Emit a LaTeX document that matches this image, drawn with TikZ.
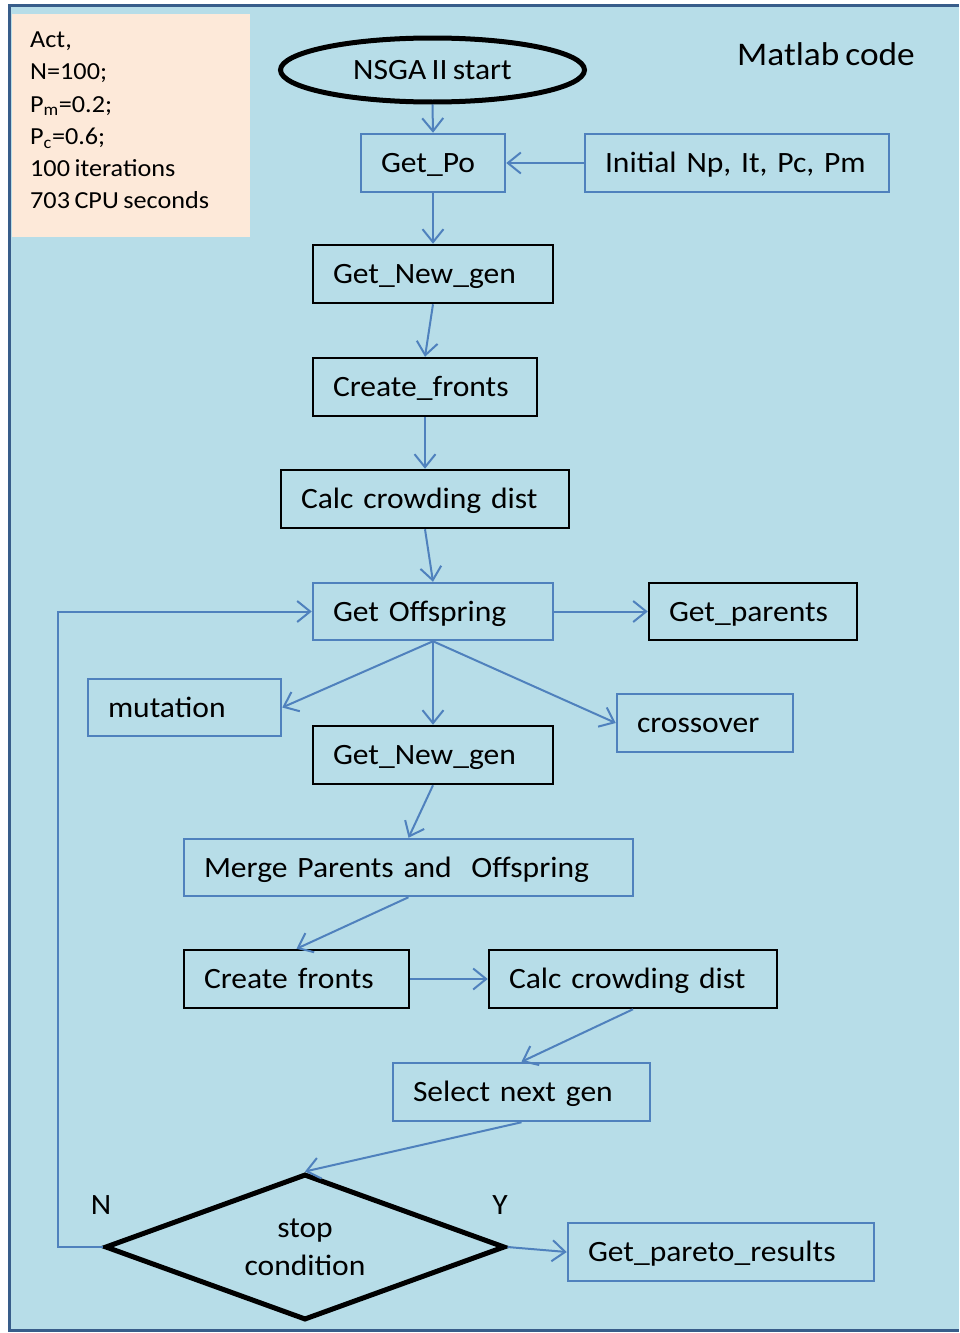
\documentclass[tikz,border=0pt]{standalone}
\usepackage{fontspec}
\setmainfont{Carlito}[FakeStretch=1.07, WordSpace=0.75]
\usetikzlibrary{shapes.geometric,arrows.meta}
\definecolor{panel}{HTML}{B7DDE8}
\definecolor{peach}{HTML}{FDE9D9}
\definecolor{flow}{HTML}{4F81BD}
\definecolor{frame}{HTML}{385D8A}

\begin{document}
\begin{tikzpicture}[x=1pt,y=-1pt,
  txt/.style={font=\fontsize{29.5}{38}\selectfont},
  box/.style={rectangle, txt, inner xsep=20pt, inner ysep=0pt, minimum height=58pt,
    text height=26pt, text depth=7pt, align=left},
  bluebox/.style={box, draw=flow, line width=2.5pt},
  blackbox/.style={box, draw=black, line width=2.5pt},
  link/.style={draw=flow, line width=2pt, -{Straight Barb[length=13pt,width=21pt,line width=2pt]}},
]
\useasboundingbox (0,0) rectangle (959,1333);

% panel and its frame
\fill[panel] (10,5) rectangle (959,1331);
\draw[frame, line width=3.5pt] (959,5.3) -- (9.3,5.3) -- (9.3,1330.5) -- (959,1330.5);

% parameter note
\node[fill=peach, minimum width=238pt, minimum height=223pt, inner sep=0pt] (info) at (131,125.5) {};
\node[anchor=west, align=left, inner sep=0pt, font=\fontsize{24.5}{32.2}\selectfont] (infotxt) at (30,120.5)
  {Act,\\N=100;\\P\textsubscript{m}=0.2;\\P\textsubscript{c}=0.6;\\100 iterations\\703 CPU seconds};

\node[font=\fontsize{33}{40}\selectfont] (title) at (826,54) {Matlab code};

% start
\node[ellipse, draw=black, line width=5pt, minimum width=304pt, minimum height=64pt, inner sep=0pt, txt] (start) at (432.5,70) {NSGA II start};

% flow boxes
\node[bluebox, text width=104pt] (po) at (433,163) {Get\_Po};
\node[bluebox, text width=264pt] (init) at (737,163) {Initial Np, It, Pc, Pm};
\node[blackbox, text width=200pt] (ng1) at (433,274) {Get\_New\_gen};
\node[blackbox, text width=184pt] (cf1) at (425,387) {Create\_fronts};
\node[blackbox, text width=248pt] (cd1) at (425,499) {Calc crowding dist};
\node[bluebox, text width=200pt, minimum height=57pt] (off) at (433,611.5) {Get Offspring};
\node[blackbox, text width=168pt, minimum height=57pt] (par) at (753,611.5) {Get\_parents};
\node[bluebox, text width=153pt, minimum height=57pt] (mut) at (184.5,707.5) {mutation};
\node[bluebox, text width=136pt] (cro) at (705,723) {crossover};
\node[blackbox, text width=200pt] (ng2) at (433,755) {Get\_New\_gen};
\node[bluebox, text width=409pt, minimum height=57pt] (mrg) at (408.5,867.5) {Merge Parents and~ Offspring};
\node[blackbox, text width=185pt] (cf2) at (296.5,979) {Create fronts};
\node[blackbox, text width=248pt] (cd2) at (633,979) {Calc crowding dist};
\node[bluebox, text width=217pt] (sel) at (521.5,1092) {Select next gen};
\node[bluebox, text width=266pt] (res) at (721,1252) {Get\_pareto\_results};

% decision
\node[diamond, draw=black, line width=5pt, minimum width=400pt, minimum height=146pt, inner sep=0pt] (stop) at (305,1247) {};
\node[txt, align=center, inner sep=0pt] (stoptxt) at (305,1247) {stop\\condition};
\node[txt] (no) at (101,1205) {N};
\node[txt] (yes) at (500,1205) {Y};

% connectors
\draw[link] (start.south) -- (po.north);
\draw[link] (init.west) -- (po.east);
\draw[link] (po.south) -- (ng1.north);
\draw[link] (ng1.south) -- (cf1.north);
\draw[link] (cf1.south) -- (cd1.north);
\draw[link] (cd1.south) -- (off.north);
\draw[link] (off.east) -- (par.west);
\draw[link] (off.south) -- (mut.east);
\draw[link] (off.south) -- (cro.west);
\draw[link] (off.south) -- (ng2.north);
\draw[link] (ng2.south) -- (mrg.north);
\draw[link] (mrg.south) -- (cf2.north);
\draw[link] (cf2.east) -- (cd2.west);
\draw[link] (cd2.south) -- (sel.north);
\draw[link] (sel.south) -- (stop.north);
\draw[link] (stop.east) -- (res.west);
\draw[link] (stop.west) -- ++(-45,0) |- (off.west);
\end{tikzpicture}
\end{document}
